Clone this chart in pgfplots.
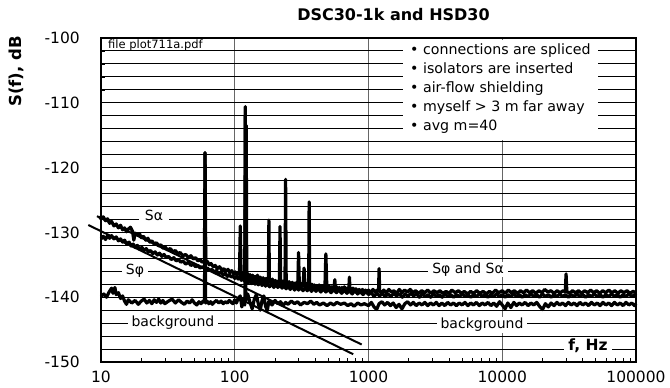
\documentclass[border=0pt]{standalone}
\usepackage{fontspec}
\setmainfont{DejaVu Sans}
\usepackage{pgfplots}
\pgfplotsset{compat=1.18}
\usetikzlibrary{calc}

\begin{document}
\begin{tikzpicture}
\begin{axis}[
  name=ax,
  at={(0,0)}, anchor=south west,
  scale only axis, width=535pt, height=324pt,
  xmode=log, log basis x=10,
  xmin=10, xmax=100000, ymin=-150, ymax=-100,
  clip=false,
  xtick={10,100,1000,10000,100000},
  xticklabels={10,100,1000,10000,100000},
  minor xtick={20,30,40,50,60,70,80,90,200,300,400,500,600,700,800,900,2000,3000,4000,5000,6000,7000,8000,9000,20000,30000,40000,50000,60000,70000,80000,90000},
  ytick={-150,-140,-130,-120,-110,-100},
  yticklabels={-150,-140,-130,-120,-110,-100},
  minor ytick={-148,-146,-144,-142,-138,-136,-134,-132,-128,-126,-124,-122,-118,-116,-114,-112,-108,-106,-104,-102},
  xmajorgrids=true, xminorgrids=false,
  ymajorgrids=true, yminorgrids=true,
  major grid style={black, line width=1pt},
  minor grid style={black, line width=1pt},
  x grid style={black!60, line width=1.1pt},
  axis line style={black, line width=1.3pt},
  xtick pos=left, ytick pos=left,
  tick align=inside,
  major tick length=0pt, minor tick length=4pt,
  minor tick style={black, line width=0.6pt},
  xticklabel style={font=\fontsize{15.5}{18}\selectfont, inner sep=0pt, yshift=-9pt},
  yticklabel style={font=\fontsize{15.5}{18}\selectfont, inner sep=0pt, xshift=-21pt},
]

% straight 1/f lines
\addplot[black, line width=2pt] coordinates {(9.33,-127.5) (889,-147.3)};
\addplot[black, line width=2pt] coordinates {(8.04,-128.86) (769,-148.8)};

% background
\addplot[black, line width=3.2pt, line join=round] coordinates {
(10,-139.9) (10.5,-139.5) (11,-140.0) (11.5,-139.2) (12,-138.6) (12.3,-139.4) (12.7,-138.5) (13,-139.6) (13.5,-139.3) (14,-140.2) (14.5,-139.8)
(15,-140.6) (15.5,-141.1) (16,-140.4) (17,-140.9) (18,-140.5) (19,-141.1) (20,-140.6) (21,-140.3) (22,-140.9) (23,-140.5) (24,-141.0) (25,-140.4)
(26,-140.8) (27,-140.3) (28,-140.9) (29,-140.5) (30,-141.0) (32,-140.6) (34,-140.3) (36,-140.9) (38,-140.4) (40,-140.8) (42,-141.1) (44,-140.6)
(46,-140.9) (48,-140.4) (50,-140.9) (52,-141.2) (54,-140.7) (56,-141.0) (58,-140.6) (59.4,-140.8) (60,-117.7) (60.6,-140.9) (62,-140.6) (64,-141.0)
(66,-140.7) (68,-141.1) (70,-140.8) (73,-140.5) (76,-140.9) (79,-140.6) (82,-141.0) (85,-140.7) (88,-140.9) (91,-140.5) (94,-140.8) (97,-141.0)
(100,-140.4) (103,-140.9) (106,-140.2) (110,-139.8) (113,-141.5) (116,-140.2) (119,-141.2) (120,-112.0) (121,-140.5) (125,-139.5) (130,-140.8) (135,-141.8)
(140,-140.3) (145,-139.6) (150,-141.0) (155,-142.0) (160,-140.5) (165,-139.8) (170,-141.4) (175,-142.1) (180,-140.6) (190,-141.2) (200,-140.5)
(210,-141.0) (220,-140.7) (230,-141.3) (240,-140.8) (250,-141.1) (265,-140.6) (280,-141.0) (295,-140.7) (310,-141.2) (330,-140.8) (350,-141.0)
(370,-140.6) (390,-141.1) (410,-140.8) (430,-141.2) (460,-140.9) (490,-141.3) (520,-140.9) (550,-141.2) (580,-140.8) (620,-141.1) (660,-140.9)
(700,-141.3) (740,-141.0) (780,-141.4) (830,-140.9) (880,-141.2) (930,-141.0)
(1000,-141.3) (1050,-140.8) (1100,-141.5) (1150,-141.9) (1200,-141.0) (1260,-140.7) (1320,-141.2) (1390,-140.8) (1460,-141.3) (1530,-140.9)
(1610,-141.6) (1690,-141.1) (1780,-141.8) (1870,-141.0) (1960,-140.7) (2060,-141.2) (2160,-140.8) (2270,-141.3) (2390,-140.9) (2510,-141.2)
(2640,-140.8) (2770,-141.3) (2910,-140.9) (3060,-141.2) (3210,-140.8) (3370,-141.3) (3540,-140.9) (3720,-141.3) (3910,-140.8) (4110,-141.2)
(4320,-140.9) (4540,-141.3) (4770,-140.9) (5010,-141.2) (5260,-140.8) (5530,-141.3) (5810,-140.9) (6100,-141.2) (6410,-140.8) (6740,-141.3)
(7080,-140.9) (7440,-141.2) (7820,-140.8) (8220,-141.3) (8640,-140.9) (9080,-141.4) (9540,-140.7) (10000,-141.2) (10500,-141.8) (11000,-140.9)
(11600,-141.6) (12200,-140.8) (12800,-141.3) (13400,-140.9) (14100,-141.2) (14800,-140.8) (15600,-141.3) (16400,-140.9) (17200,-141.2)
(18100,-140.8) (19000,-141.4) (20000,-141.9) (21000,-141.0) (22100,-141.5) (23200,-140.9) (24400,-141.3) (25600,-140.8) (26900,-141.2)
(28300,-140.9) (29700,-141.3) (31200,-140.8) (32800,-141.2) (34500,-140.9) (36200,-141.3) (38100,-140.8) (40000,-141.2) (42000,-140.9)
(44200,-141.3) (46400,-140.8) (48800,-141.2) (51300,-140.9) (53900,-141.3) (56600,-140.8) (59500,-141.2) (62500,-140.9) (65700,-141.3)
(69000,-140.8) (72500,-141.2) (76200,-140.9) (80100,-141.3) (84200,-140.8) (88400,-141.2) (92900,-140.9) (97600,-141.3) (100000,-141.0)
};

% S phi
\addplot[black, line width=3.2pt, line join=round] coordinates {
(10,-131.0) (10.4,-130.6) (10.8,-131.1) (11.2,-130.5) (11.6,-130.9) (12,-130.5) (12.5,-131.0) (13,-130.7) (13.5,-131.3) (14,-131.0) (14.5,-131.5)
(15,-131.2) (15.6,-131.8) (16.2,-131.5) (16.8,-132.1) (17.4,-131.8) (18,-132.3) (18.7,-132.0) (19.4,-132.6) (20.2,-132.3) (21,-132.8) (21.8,-132.5)
(22.6,-133.0) (23.5,-132.8) (24.4,-133.3) (25.4,-133.0) (26.4,-133.5) (27.4,-133.2) (28.5,-133.7) (29.6,-133.4) (30.8,-133.9) (32,-133.7)
(33.5,-134.2) (35,-133.9) (36.5,-134.4) (38,-134.2) (39.5,-134.6) (41,-134.4) (43,-134.9) (45,-134.6) (47,-135.1) (49,-134.9) (51,-135.3)
(53,-135.1) (55,-135.5) (57.5,-135.3) (60,-135.7) (62.5,-135.5) (65,-135.9) (67.5,-135.7) (70,-136.1) (73,-135.9) (76,-136.4) (79,-136.1)
(82,-136.6) (85,-136.3) (88,-136.8) (91,-136.5) (94,-136.9) (97,-136.7) (100,-137.1) (103,-136.8) (106,-137.2) (109,-136.9) (112,-137.4)
(115,-137.0) (118,-137.5) (120.5,-137.1) (121.8,-113.5) (123,-137.3) (126,-137.8) (130,-137.3) (134,-137.9) (138,-137.4) (142,-138.0)
(146,-137.5) (150,-138.1) (155,-137.6) (160,-138.2) (165,-137.7) (170,-138.3) (175,-137.8) (182,-138.4) (189,-137.9) (196,-138.5) (203,-138.0)
(210,-138.5) (218,-138.1) (226,-138.6) (234,-138.2) (242,-138.7) (250,-138.3) (260,-138.8) (270,-138.3) (280,-138.9) (290,-138.4) (300,-138.9)
(312,-138.5) (324,-139.0) (336,-138.5) (348,-139.0) (360,-138.6) (375,-139.1) (390,-138.6) (405,-139.1) (420,-138.7) (440,-139.2) (460,-138.7)
(480,-139.2) (500,-138.8) (525,-139.3) (550,-138.8) (575,-139.3) (600,-138.9) (630,-139.4) (660,-138.9) (690,-139.4) (720,-139.0) (755,-139.5)
(790,-139.0) (830,-139.5) (870,-139.1) (910,-139.6) (955,-139.1) (1000,-139.6)
(1050,-139.3) (1100,-139.9) (1150,-139.4) (1210,-139.8) (1270,-139.4) (1330,-139.9) (1400,-139.5) (1470,-139.9) (1540,-139.4) (1620,-139.8)
(1700,-139.5) (1790,-140.0) (1880,-139.5) (1970,-139.9) (2070,-139.4) (2170,-139.8) (2280,-139.5) (2400,-140.0) (2520,-139.5) (2650,-139.9)
(2780,-139.6) (2920,-140.0) (3070,-139.5) (3220,-139.9) (3380,-139.6) (3550,-140.0) (3730,-139.5) (3920,-139.9) (4120,-139.6) (4330,-140.0)
(4550,-139.6) (4780,-139.9) (5020,-139.5) (5270,-139.9) (5540,-139.6) (5820,-140.0) (6110,-139.6) (6420,-139.9) (6740,-139.5) (7080,-139.9)
(7440,-139.6) (7810,-140.0) (8210,-139.6) (8620,-139.9) (9060,-139.5) (9520,-139.9) (10000,-139.6) (10500,-140.0) (11000,-139.6) (11600,-139.9)
(12200,-139.5) (12800,-139.9) (13400,-139.6) (14100,-140.0) (14800,-139.6) (15600,-139.9) (16400,-139.5) (17200,-139.9) (18100,-139.6)
(19000,-140.0) (20000,-139.5) (21000,-139.9) (22100,-139.6) (23200,-140.0) (24400,-139.6) (25600,-139.9) (26900,-139.5) (28300,-139.9)
(29700,-139.6) (31200,-140.0) (32800,-139.6) (34500,-139.9) (36200,-139.5) (38100,-139.9) (40000,-139.6) (42000,-140.0) (44200,-139.6)
(46400,-139.9) (48800,-139.5) (51300,-139.9) (53900,-139.6) (56600,-140.0) (59500,-139.6) (62500,-139.9) (65700,-139.5) (69000,-139.9)
(72500,-139.6) (76200,-140.0) (80100,-139.6) (84200,-139.9) (88400,-139.5) (92900,-139.9) (97600,-139.6) (100000,-139.8)
};

% S alpha
\addplot[black, line width=3.2pt, line join=round] coordinates {
(9.7,-127.5) (10,-127.9) (10.4,-127.6) (10.8,-128.2) (11.2,-127.9) (11.6,-128.6) (12,-128.3) (12.5,-129.0) (13,-128.7) (13.5,-129.3) (14,-128.9)
(14.5,-129.6) (15,-129.3) (15.5,-129.9) (16,-129.5) (16.6,-129.2) (17.2,-129.8) (17.6,-131.2) (18,-130.1) (18.7,-130.4) (19.4,-130.2) (20,-130.8)
(20.8,-130.6) (21.6,-131.2) (22.4,-130.9) (23.2,-131.5) (24,-131.3) (25,-131.8) (26,-131.6) (27,-132.1) (28,-131.9) (29,-132.4) (30,-132.2)
(31.5,-132.7) (33,-132.5) (34.5,-133.0) (36,-132.8) (37.5,-133.3) (39,-133.1) (41,-133.6) (43,-133.4) (45,-133.9) (47,-133.6) (49,-134.1)
(51,-133.9) (53,-134.4) (55,-134.2) (57,-134.6) (59.3,-134.4) (60,-117.7) (60.7,-134.7) (62.5,-134.5) (64.5,-135.0) (66.5,-134.8) (69,-135.3)
(71.5,-135.1) (74,-135.6) (77,-135.3) (80,-135.8) (83,-135.6) (86,-136.0) (89,-135.7) (92,-136.2) (95,-135.9) (98,-136.4) (101,-136.1)
(104,-136.6) (107,-136.3) (108.5,-136.5) (110,-129.0) (111.5,-136.7) (114,-136.2) (116.5,-136.9) (118.8,-136.5) (120,-110.6) (121.2,-136.8)
(124,-136.3) (127,-137.0) (130,-136.5) (133,-137.2) (136,-136.6) (139,-137.3) (142,-136.8) (145,-137.1) (148,-136.6) (151,-137.4) (155,-136.9)
(159,-137.5) (163,-137.0) (167,-137.6) (171,-137.1) (175,-137.7) (178.5,-137.3) (180,-128.1) (181.5,-137.4) (186,-137.8) (191,-137.2)
(196,-137.9) (201,-137.4) (206,-138.0) (211,-137.5) (215.5,-138.1) (218,-129.1) (220.5,-137.6) (226,-138.0) (232,-137.5) (237.5,-138.1)
(240,-121.8) (242.5,-137.8) (248,-138.2) (255,-137.6) (262,-138.3) (269,-137.7) (276,-138.3) (283,-137.8) (290,-138.4) (296,-137.9)
(300,-133.1) (304,-138.0) (310,-138.4) (316,-137.9) (321,-138.3) (325,-137.8) (330,-135.5) (335,-138.1) (341,-138.5) (347,-137.9) (353,-138.4)
(357,-138.1) (360,-125.3) (363,-138.3) (370,-138.6) (378,-138.0) (386,-138.5) (394,-138.1) (402,-138.6) (410,-138.2) (419,-138.7) (428,-138.1)
(437,-138.6) (446,-138.3) (455,-138.8) (464,-138.2) (472,-138.6) (480,-133.3) (488,-138.4) (498,-138.8) (509,-138.3) (520,-138.9) (531,-138.4)
(542,-138.7) (553,-138.3) (560,-137.3) (567,-138.8) (579,-138.4) (592,-138.9) (605,-138.5) (618,-139.0) (632,-138.5) (646,-138.9) (660,-138.4)
(675,-139.0) (690,-138.6) (705,-139.0) (713,-138.6) (720,-136.9) (727,-138.7) (745,-139.1) (765,-138.6) (785,-139.1) (805,-138.7) (825,-139.2)
(850,-138.8) (875,-139.3) (900,-138.8) (925,-139.2) (950,-138.9) (975,-139.3) (1000,-138.9) (1040,-139.3) (1080,-138.8) (1120,-139.2)
(1160,-138.9) (1188,-139.1) (1200,-135.6) (1212,-139.0) (1250,-139.4) (1300,-138.9) (1360,-139.3) (1420,-138.8) (1480,-139.2) (1550,-139.0)
(1620,-139.4) (1700,-138.8) (1780,-139.3) (1860,-138.9) (1950,-139.2) (2050,-138.8) (2150,-139.3) (2250,-139.0) (2370,-139.4) (2500,-139.0)
(2630,-139.3) (2770,-138.9) (2920,-139.4) (3080,-139.0) (3250,-139.3) (3420,-139.0) (3600,-139.4) (3800,-139.1) (4000,-139.4) (4200,-138.9)
(4450,-139.3) (4700,-139.0) (4950,-139.4) (5200,-139.1) (5500,-139.5) (5800,-139.1) (6100,-139.4) (6450,-139.0) (6800,-139.4) (7200,-139.1)
(7600,-139.5) (8000,-139.1) (8450,-139.4) (8900,-138.9) (9400,-139.3) (10000,-139.0) (10500,-139.4) (11100,-138.9) (11700,-139.3) (12300,-139.0)
(13000,-139.4) (13700,-139.0) (14400,-139.3) (15200,-138.9) (16000,-139.3) (16900,-139.0) (17800,-139.4) (18800,-139.0) (19800,-139.3)
(20800,-138.8) (21900,-139.2) (23100,-139.0) (24400,-139.4) (25700,-139.0) (27100,-139.3) (28500,-139.0) (29600,-139.2) (30000,-136.4)
(30400,-139.1) (31800,-139.4) (33500,-139.0) (35300,-139.3) (37200,-139.0) (39200,-139.4) (41300,-139.0) (43500,-139.3) (45800,-138.9)
(48200,-139.3) (50800,-139.0) (53500,-139.4) (56400,-139.0) (59400,-139.3) (62600,-138.9) (66000,-139.3) (69500,-139.0) (73200,-139.4)
(77100,-139.0) (81200,-139.3) (85600,-139.0) (90200,-139.4) (95000,-139.1) (100000,-139.3)
};

% legend box and text
\fill[white] (axis cs:1811,-100.25) rectangle (axis cs:52000,-115.7);
\node[anchor=west, inner sep=0pt, align=left, font=\fontsize{14.2}{19}\selectfont] at (axis cs:2043,-107.8)
  {• connections are spliced\\• isolators are inserted\\• air-flow shielding\\• myself > 3 m far away\\• avg m=40};

% in-plot labels
\node[fill=white, inner xsep=6pt, inner ysep=1pt, font=\fontsize{14}{16}\selectfont] at (axis cs:24.9,-127.4) {Sα};
\node[fill=white, inner xsep=4pt, inner ysep=1pt, font=\fontsize{14}{16}\selectfont] at (axis cs:17.96,-135.9) {Sφ};
\node[fill=white, inner xsep=4pt, inner ysep=1pt, font=\fontsize{14}{16}\selectfont] at (axis cs:34.5,-143.9) {background};
\node[fill=white, inner xsep=4pt, inner ysep=1pt, font=\fontsize{14}{16}\selectfont] at (axis cs:5546,-135.7) {Sφ and Sα};
\node[fill=white, inner xsep=4pt, inner ysep=1pt, font=\fontsize{14}{16}\selectfont] at (axis cs:7058,-144.3) {background};
\node[fill=white, inner xsep=4pt, inner ysep=1pt, font=\bfseries\fontsize{15.5}{18}\selectfont] at (axis cs:43750,-147.5) {f, Hz};
\node[anchor=west, inner sep=0pt, font=\fontsize{11.5}{13}\selectfont] at (axis cs:11.28,-101.08) {file plot711a.pdf};

% title and y label
\node[font=\bfseries\fontsize{16}{19}\selectfont] at (rel axis cs:0.5467,1.071) {DSC30-1k and HSD30};
\node[rotate=90, font=\bfseries\fontsize{16.5}{19}\selectfont] at (rel axis cs:-0.1589,0.8966) {S(f), dB};
\end{axis}
\pgfresetboundingbox
\path ($(ax.south west)+(-101pt,-26pt)$) rectangle ($(ax.north east)+(34pt,38pt)$);
\end{tikzpicture}
\end{document}
